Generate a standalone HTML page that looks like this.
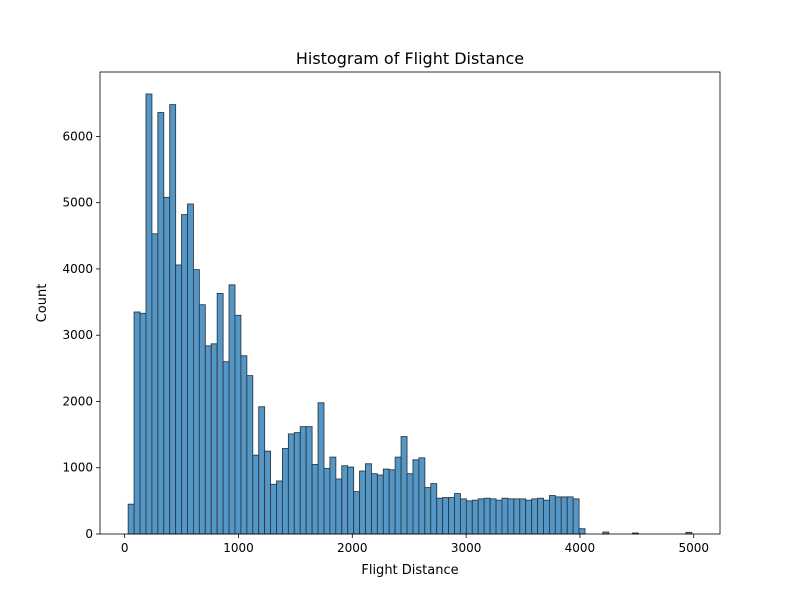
<!DOCTYPE html>
<html><head><meta charset="utf-8"><style>
body{margin:0;background:#fff;font-family:"Liberation Sans","DejaVu Sans",sans-serif;}
svg text{font-family:"DejaVu Sans","Liberation Sans",sans-serif;}
</style></head><body>
<svg id="chart" width="800" height="600">
<rect width="800" height="600" fill="#fff"/>
<g id="bars"></g>
<rect x="100" y="72" width="620" height="462" fill="none" stroke="#000" stroke-width="0.8"/>
<g id="xt"></g>
<g id="yt"></g>
<text x="410" y="64" text-anchor="middle" font-size="16">Histogram of Flight Distance</text>
<text x="410" y="574" text-anchor="middle" font-size="13">Flight Distance</text>
<text x="46" y="303" text-anchor="middle" font-size="13" transform="rotate(-90 46 303)">Count</text>
</svg>
<script>
const binStart = 31;
const binEnd = 4983;
const binCount = 95;
const counts = [450,3350,3330,6640,4530,6360,5080,6480,4060,4820,4980,3990,3460,2840,2870,3630,2600,3760,3300,2690,2390,1190,1920,1250,750,800,1290,1510,1530,1620,1620,1050,1980,990,1160,830,1030,1010,640,950,1060,910,890,980,970,1160,1470,910,1120,1150,700,760,540,550,550,610,530,500,510,530,540,530,510,540,530,530,530,510,530,540,510,580,560,560,560,530,80,0,0,0,30,0,0,0,0,15,0,0,0,0,0,0,0,0,25];
const xTicks = [0,1000,2000,3000,4000,5000];
const yTicks = [0,1000,2000,3000,4000,5000,6000];
const NS="http://www.w3.org/2000/svg";
const L=100,R=720,T=72,B=534;
const xr=binEnd-binStart, xmin=binStart-0.05*xr, xmax=binEnd+0.05*xr;
const ymax=Math.max(...counts)*1.05;
const X=v=>L+(v-xmin)/(xmax-xmin)*(R-L);
const Y=v=>B-v/ymax*(B-T);
const w=xr/binCount;
const bars=document.getElementById('bars');
counts.forEach((c,i)=>{
  if(c<=0) return;
  const r=document.createElementNS(NS,'rect');
  const x0=X(binStart+i*w), x1=X(binStart+(i+1)*w);
  r.setAttribute('x',x0);r.setAttribute('width',x1-x0);
  r.setAttribute('y',Y(c));r.setAttribute('height',B-Y(c));
  r.setAttribute('fill','#5497c7');r.setAttribute('stroke','#2e3a46');r.setAttribute('stroke-width','0.9');
  
  
  bars.appendChild(r);
});
const xt=document.getElementById('xt');
xTicks.forEach(v=>{
  const l=document.createElementNS(NS,'line');
  l.setAttribute('x1',X(v));l.setAttribute('x2',X(v));l.setAttribute('y1',B);l.setAttribute('y2',B+4);
  l.setAttribute('stroke','#000');l.setAttribute('stroke-width','0.8');
  
  
  xt.appendChild(l);
  const t=document.createElementNS(NS,'text');
  t.setAttribute('x',X(v));t.setAttribute('y',B+18);t.setAttribute('text-anchor','middle');t.setAttribute('font-size','12');
  t.textContent=v;
  
  
  xt.appendChild(t);
});
const yt=document.getElementById('yt');
yTicks.forEach(v=>{
  const l=document.createElementNS(NS,'line');
  l.setAttribute('x1',L-4);l.setAttribute('x2',L);l.setAttribute('y1',Y(v));l.setAttribute('y2',Y(v));
  l.setAttribute('stroke','#000');l.setAttribute('stroke-width','0.8');
  
  
  yt.appendChild(l);
  const t=document.createElementNS(NS,'text');
  t.setAttribute('x',L-7);t.setAttribute('y',Y(v)+4);t.setAttribute('text-anchor','end');t.setAttribute('font-size','12');
  t.textContent=v;
  
  
  yt.appendChild(t);
});
</script>
</body></html>
